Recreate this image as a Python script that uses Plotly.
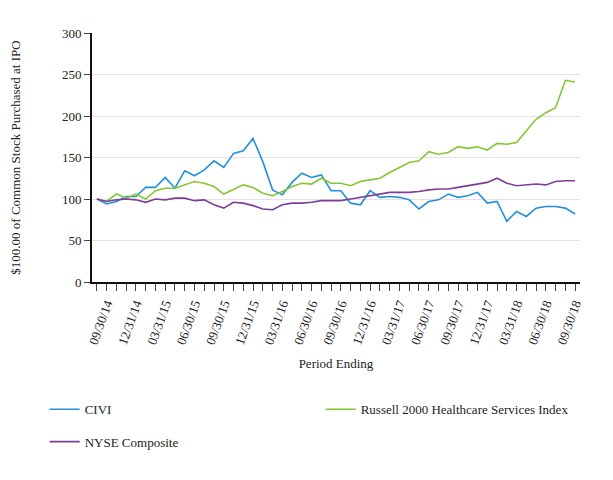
import plotly.graph_objects as go
import pandas as pd

# Categories: IPO date followed by month-ends 09/30/14 .. 09/30/18
periods = ["09/17/14"] + [d.strftime("%m/%d/%y") for d in pd.date_range("2014-09-30", "2018-09-30", freq="ME")]

tick_labels = ["09/30/14", "12/31/14", "03/31/15", "06/30/15", "09/30/15", "12/31/15",
               "03/31/16", "06/30/16", "09/30/16", "12/31/16", "03/31/17", "06/30/17",
               "09/30/17", "12/31/17", "03/31/18", "06/30/18", "09/30/18"]

civi = [100, 94, 97, 103, 103, 114, 114, 126, 113, 134, 128, 135, 146, 138, 155, 158, 173,
        145, 111, 105, 120, 131, 126, 129, 110, 110, 95, 93, 110, 102, 103, 102, 99, 88,
        97, 99, 106, 102, 104, 108, 95, 97, 73, 85, 79, 89, 91, 91, 89, 82]

russell = [100, 97, 106, 101, 106, 100, 110, 113, 113, 117, 121, 119, 115, 106, 112, 117, 114,
           107, 104, 109, 115, 119, 118, 125, 119, 119, 116, 121, 123, 125, 132, 138, 144, 146,
           157, 154, 156, 163, 161, 163, 159, 167, 166, 168, 182, 196, 204, 210, 243, 241]

nyse = [100, 97, 99, 100, 99, 96, 100, 99, 101, 101, 98, 99, 93, 89, 96, 95, 92,
        88, 87, 93, 95, 95, 96, 98, 98, 98, 100, 102, 104, 106, 108, 108, 108, 109,
        111, 112, 112, 114, 116, 118, 120, 125, 119, 116, 117, 118, 117, 121, 122, 122]

series = [
    ("CIVI", civi, "#2490dc", "legend"),
    ("Russell 2000 Healthcare Services Index", russell, "#84c634", "legend"),
    ("NYSE Composite", nyse, "#7b3f99", "legend2"),
]

fig = go.Figure()
for name, vals, color, lg in series:
    fig.add_trace(go.Scatter(x=periods, y=vals, mode="lines", name=name,
                             line=dict(color=color, width=1.6), legend=lg))

ticktext = [p if p in tick_labels else "" for p in periods]

font = "Liberation Serif, Times New Roman, serif"
f13 = dict(family=font, size=13, color="#222")
fig.update_layout(
    width=605, height=472,
    margin=dict(l=84, r=33, t=25, b=198, autoexpand=False),
    paper_bgcolor="white", plot_bgcolor="white",
    font=f13,
    showlegend=True,
    legend=dict(orientation="h", x=-0.097, xanchor="left", y=-0.451, yanchor="top",
                entrywidth=231, entrywidthmode="pixels",
                font=f13, itemclick=False),
    legend2=dict(orientation="h", x=-0.097, xanchor="left", y=-0.581, yanchor="top",
                 font=f13, itemclick=False),
    xaxis=dict(type="category", range=[-0.5, len(periods) - 0.5], automargin=False,
               tickvals=periods, ticktext=ticktext, tickangle=-70,
               ticks="outside", ticklen=7, tickcolor="#444", tickwidth=1,
               showline=True, linecolor="#111", linewidth=2,
               showgrid=False, tickfont=f13,
               title=dict(text="Period Ending", font=f13, standoff=13)),
    yaxis=dict(range=[0, 300], dtick=50, tickmode="linear", automargin=False,
               ticks="outside", ticklen=6, tickcolor="#444",
               showline=True, linecolor="#111", linewidth=2,
               showgrid=True, gridcolor="#e3e3e3", gridwidth=1,
               zeroline=False, tickfont=f13,
               title=dict(text="$100.00 of Common Stock Purchased at IPO", font=f13, standoff=41)),
)

fig.write_html("out.html")
